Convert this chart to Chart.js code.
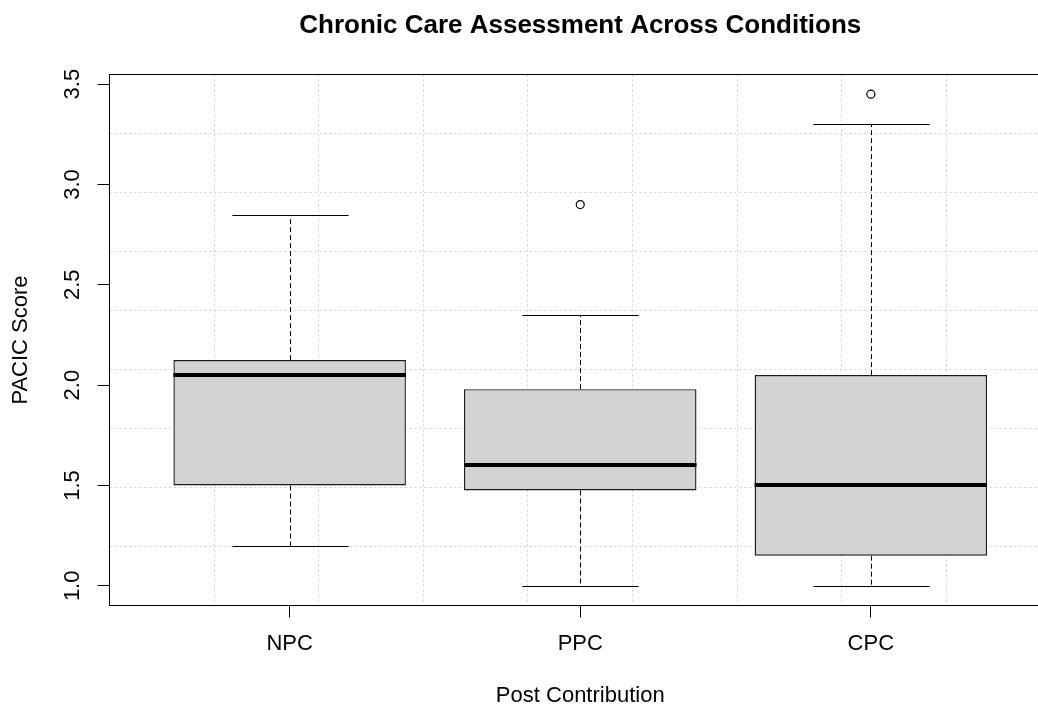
<!DOCTYPE html>
<html>
<head>
<meta charset="utf-8">
<script src="https://cdn.jsdelivr.net/npm/chart.js@4.4.1/dist/chart.umd.min.js"></script>
<style>
html, body { margin: 0; padding: 0; background: #fff; overflow: hidden; width: 1038px; height: 706px; }
canvas { display: block; }
</style>
</head>
<body>
<canvas id="c" width="1080" height="706" style="width:1080px;height:706px"></canvas>
<script>
// ---- data ----
const categories = ['NPC', 'PPC', 'CPC'];
const lowerWhisker = [1.2, 1.0, 1.0];
const lowerQuartile = [1.5, 1.475, 1.15];
const medianValue = [2.05, 1.6, 1.5];
const upperQuartile = [2.125, 1.98, 2.05];
const upperWhisker = [2.85, 2.35, 3.3];
const outlierCategory = ['PPC', 'CPC'];
const outlierValue = [2.9, 3.45];
const yTickValues = [1.0, 1.5, 2.0, 2.5, 3.0, 3.5];
const chartTitle = 'Chronic Care Assessment Across Conditions';
const xTitle = 'Post Contribution';
const yTitle = 'PACIC Score';

// ---- style / layout ----
const LABEL_FONT = "'Liberation Sans', Arial, sans-serif";
const TITLE_FONT = "'Liberation Sans', Arial, sans-serif";
const LABEL_SIZE = 22;
const GRID_CELLS = 9;

const n = categories.length;
const xMin = 0.5 - 0.04 * n;
const xMax = n + 0.5 + 0.04 * n;
const allY = lowerWhisker.concat(upperWhisker, outlierValue);
const yLo = Math.min(...allY), yHi = Math.max(...allY);
const yPad = 0.04 * (yHi - yLo);
const yMin = yLo - yPad, yMax = yHi + yPad;

function interior(min, max, cells) {
  const out = [];
  for (let k = 1; k < cells; k++) out.push(min + (max - min) * k / cells);
  return out;
}

const boxParts = {
  id: 'boxParts',
  afterDatasetsDraw(chart) {
    const ctx = chart.ctx;
    const x = chart.scales.x, y = chart.scales.y;
    const bars = chart.getDatasetMeta(0).data;
    ctx.save();
    ctx.strokeStyle = '#000';
    const seg = (x1, y1, x2, y2) => { ctx.beginPath(); ctx.moveTo(x1, y1); ctx.lineTo(x2, y2); ctx.stroke(); };
    categories.forEach((c, i) => {
      const bar = bars[i];
      const cx = Math.round(x.getPixelForValue(i + 1)) + 0.5;
      const half = bar.width / 2;
      const capHalf = half / 2;
      const yUQ = y.getPixelForValue(upperQuartile[i]);
      const yLQ = y.getPixelForValue(lowerQuartile[i]);
      const yUW = Math.round(y.getPixelForValue(upperWhisker[i])) + 0.5;
      const yLW = Math.round(y.getPixelForValue(lowerWhisker[i])) + 0.5;
      const yMed = Math.round(y.getPixelForValue(medianValue[i]));
      ctx.lineWidth = 1;
      ctx.setLineDash([5, 3]);
      seg(cx, yUQ, cx, yUW);
      seg(cx, yLQ, cx, yLW);
      ctx.setLineDash([]);
      seg(cx - capHalf, yUW, cx + capHalf, yUW);
      seg(cx - capHalf, yLW, cx + capHalf, yLW);
      ctx.lineWidth = 4;
      seg(bar.x - half, yMed, bar.x + half, yMed);
    });
    const a = chart.chartArea;
    ctx.lineWidth = 1;
    ctx.strokeRect(a.left, a.top, a.right - a.left, a.bottom - a.top);
    ctx.restore();
  }
};

new Chart(document.getElementById('c'), {
  type: 'scatter',
  data: {
    datasets: [
      {
        type: 'bar',
        label: 'Interquartile range',
        data: categories.map((c, i) => ({ x: i + 1, y: [lowerQuartile[i], upperQuartile[i]] })),
        backgroundColor: '#D3D3D3',
        borderColor: '#1a1a1a',
        borderWidth: 1.4,
        borderSkipped: false,
        categoryPercentage: 1,
        barPercentage: 0.8,
        xAxisID: 'x',
        yAxisID: 'y'
      },
      {
        type: 'scatter',
        label: 'Outliers',
        data: outlierCategory.map((c, i) => ({ x: categories.indexOf(c) + 1, y: outlierValue[i] })),
        pointStyle: 'circle',
        pointRadius: 4,
        pointHoverRadius: 4,
        pointBackgroundColor: 'rgba(0,0,0,0)',
        pointBorderColor: '#000',
        pointBorderWidth: 1.2,
        xAxisID: 'x',
        yAxisID: 'y'
      }
    ]
  },
  options: {
    responsive: false,
    animation: false,
    events: [],
    layout: { padding: { left: 0, right: 29, top: 0, bottom: 0 } },
    plugins: {
      legend: { display: false },
      tooltip: { enabled: false },
      title: {
        display: true,
        text: chartTitle,
        fullSize: false,
        color: '#000',
        font: { family: TITLE_FONT, size: 26, weight: 'bold', lineHeight: 1.2 },
        padding: { top: 10.5, bottom: 32.8 }
      }
    },
    scales: {
      x: {
        type: 'linear',
        position: 'bottom',
        min: xMin,
        max: xMax,
        offset: false,
        afterBuildTicks: s => { s.ticks = categories.map((c, i) => ({ value: i + 1 })); },
        afterFit: s => { s.height = 100.5; },
        ticks: {
          callback: v => categories[Math.round(v) - 1] ?? '',
          color: '#000',
          font: { family: LABEL_FONT, size: LABEL_SIZE },
          padding: 13.3,
          autoSkip: false,
          minRotation: 0,
          maxRotation: 0
        },
        grid: { display: true, drawOnChartArea: false, drawTicks: true, tickLength: 12, tickColor: '#000', tickWidth: 1, offset: false },
        border: { display: false },
        title: {
          display: true,
          text: xTitle,
          color: '#000',
          font: { family: LABEL_FONT, size: LABEL_SIZE, lineHeight: 0.9 },
          padding: { top: 0, bottom: 0 }
        }
      },
      y: {
        type: 'linear',
        position: 'left',
        min: yMin,
        max: yMax,
        afterBuildTicks: s => { s.ticks = yTickValues.map(v => ({ value: v })); },
        afterFit: s => { s.width = 109.5; },
        ticks: {
          callback: v => Number(v).toFixed(1),
          color: '#000',
          font: { family: LABEL_FONT, size: LABEL_SIZE },
          padding: 9.7,
          minRotation: 90,
          maxRotation: 90,
          crossAlign: 'center'
        },
        grid: { display: true, drawOnChartArea: false, drawTicks: true, tickLength: 12, tickColor: '#000', tickWidth: 1 },
        border: { display: false },
        title: {
          display: true,
          text: yTitle,
          color: '#000',
          font: { family: LABEL_FONT, size: LABEL_SIZE, lineHeight: 1.2 },
          padding: { top: 7.6, bottom: 0 }
        }
      },
      xg: {
        type: 'linear',
        position: 'bottom',
        min: xMin,
        max: xMax,
        offset: false,
        afterBuildTicks: s => { s.ticks = interior(xMin, xMax, GRID_CELLS).map(v => ({ value: v })); },
        afterFit: s => { s.height = 0; },
        ticks: { display: false },
        grid: { display: true, color: '#CFCFCF', lineWidth: 1, drawTicks: false, offset: false },
        border: { display: false, dash: [2, 3] }
      },
      yg: {
        type: 'linear',
        position: 'right',
        min: yMin,
        max: yMax,
        afterBuildTicks: s => { s.ticks = interior(yMin, yMax, GRID_CELLS).map(v => ({ value: v })); },
        afterFit: s => { s.width = 0; },
        ticks: { display: false },
        grid: { display: true, color: '#CFCFCF', lineWidth: 1, drawTicks: false },
        border: { display: false, dash: [2, 3] }
      }
    }
  },
  plugins: [boxParts]
});
</script>
</body>
</html>
